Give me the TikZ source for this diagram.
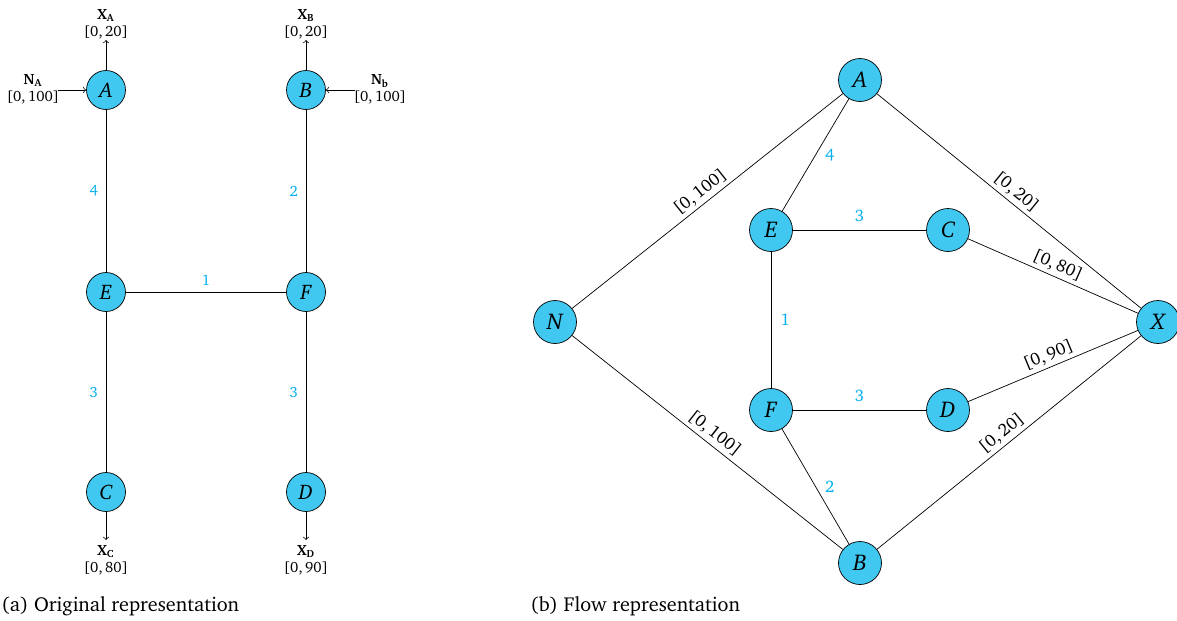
\documentclass[tikz,border=0pt]{standalone}
\usepackage[T1]{fontenc}
\usepackage{charter}
\usepackage{tikz}
\usetikzlibrary{calc}

\definecolor{nodeblue}{RGB}{64,200,240}
\definecolor{weightblue}{RGB}{0,174,239}

\begin{document}
\begin{tikzpicture}[x=0.02cm, y=-0.02cm,
		vertex/.style={circle, draw, fill=nodeblue, minimum size=0.78cm, inner sep=0pt, font=\large\itshape},
		flowvertex/.style={vertex, minimum size=0.86cm, font=\fontsize{13}{15}\selectfont\itshape},
		weight/.style={font=\fontsize{8.5}{10}\selectfont, text=weightblue},
		flowweight/.style={font=\fontsize{9.5}{11}\selectfont, text=weightblue},
		bound/.style={font=\fontsize{10}{12}\selectfont, sloped, above, inner sep=2pt},
		ext/.style={font=\fontsize{8.5}{10}\selectfont, align=center, inner sep=1pt},
		subcap/.style={anchor=west, inner sep=0pt, font=\fontsize{11.5}{13}\selectfont}]
			\useasboundingbox (0, 0) rectangle (1177, 620);
			
			% original representation
			\node[vertex] (A) at (106, 90) {A};
			\node[vertex] (B) at (306, 90) {B};
			\node[vertex] (E) at (106, 292) {E};
			\node[vertex] (F) at (306, 292) {F};
			\node[vertex] (C) at (106, 492) {C};
			\node[vertex] (D) at (306, 492) {D};
			
			\node[ext] (xa) at (106, 24) {\textbf{X\textsubscript{A}}\\{}[0,\,20]};
			\node[ext] (xb) at (306, 24) {\textbf{X\textsubscript{B}}\\{}[0,\,20]};
			\node[ext] (na) at (33, 89) {\textbf{N\textsubscript{A}}\\{}[0,\,100]};
			\node[ext] (nb) at (380, 89) {\textbf{N\textsubscript{b}}\\{}[0,\,100]};
			\node[ext] (xc) at (106, 560) {\textbf{X\textsubscript{C}}\\{}[0,\,80]};
			\node[ext] (xd) at (306, 560) {\textbf{X\textsubscript{D}}\\{}[0,\,90]};
			
			\coordinate (xaend) at (106, 40);
			\coordinate (xbend) at (306, 40);
			\coordinate (nastart) at (58, 90);
			\coordinate (nbstart) at (355, 90);
			\coordinate (xcend) at (106, 540);
			\coordinate (xdend) at (306, 540);
			
			\draw[->] (A) -- (xaend);
			\draw[->] (B) -- (xbend);
			\draw[->] (nastart) -- (A);
			\draw[->] (nbstart) -- (B);
			\draw[->] (C) -- (xcend);
			\draw[->] (D) -- (xdend);
			
			\draw (A) -- node[weight, left=1pt] (l4) {4} (E);
			\draw (B) -- node[weight, left=1pt] (l2) {2} (F);
			\draw (E) -- node[weight, above=0pt] (l1) {1} (F);
			\draw (E) -- node[weight, left=1pt] (l3a) {3} (C);
			\draw (F) -- node[weight, left=1pt] (l3b) {3} (D);
			
			\node[subcap] (capa) at (1, 606) {(a) Original representation};
			
			% flow representation
			\node[flowvertex] (fA) at (860, 80) {A};
			\node[flowvertex] (fN) at (555, 322) {N};
			\node[flowvertex] (fE) at (771, 230) {E};
			\node[flowvertex] (fC) at (948, 230) {C};
			\node[flowvertex] (fX) at (1158, 322) {X};
			\node[flowvertex] (fF) at (771, 410) {F};
			\node[flowvertex] (fD) at (948, 410) {D};
			\node[flowvertex] (fB) at (860, 563) {B};
			
			\draw (fN) -- node[bound] {[0,\,100]} (fA);
			\draw (fN) -- node[bound] {[0,\,100]} (fB);
			\draw (fA) -- node[bound] {[0,\,20]} (fX);
			\draw (fC) -- node[bound] {[0,\,80]} (fX);
			\draw (fD) -- node[bound] {[0,\,90]} (fX);
			\draw (fB) -- node[bound] {[0,\,20]} (fX);
			
			\draw (fA) -- node[flowweight, right=2pt] {4} (fE);
			\draw (fE) -- node[flowweight, above=1pt] {3} (fC);
			\draw (fE) -- node[flowweight, right=2pt] {1} (fF);
			\draw (fF) -- node[flowweight, above=1pt] {3} (fD);
			\draw (fF) -- node[flowweight, right=2pt] {2} (fB);
			
			\node[subcap] (capb) at (530, 606) {(b) Flow representation};
			
		\end{tikzpicture}
\end{document}
